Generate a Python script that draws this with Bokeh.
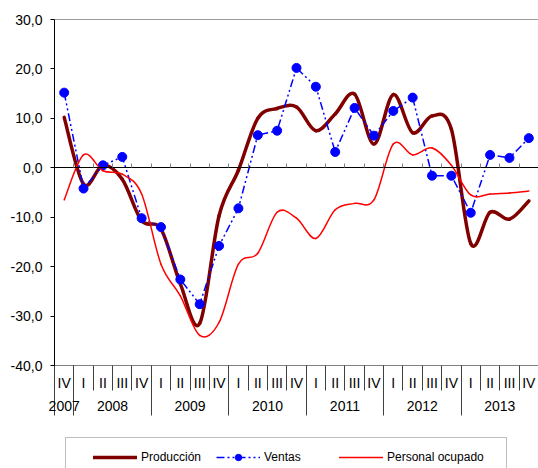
from bokeh.plotting import figure
from bokeh.models import Range1d, LinearAxis, FixedTicker, Legend, LegendItem, ColumnDataSource
from bokeh.embed import file_html
from bokeh.resources import INLINE

FONT = "Liberation Sans"

quarters = ["IV", "I", "II", "III", "IV", "I", "II", "III", "IV", "I", "II", "III", "IV",
            "I", "II", "III", "IV", "I", "II", "III", "IV", "I", "II", "III", "IV"]
years = ["2007", "2008", "2009", "2010", "2011", "2012", "2013"]
quarters_per_year = [1, 4, 4, 4, 4, 4, 4]

produccion = [10.2, -3.3, 0.5, -2.3, -10.7, -12.4, -23.5, -31.5, -9.7, -0.5, 10.0, 12.0, 12.3,
              7.5, 10.9, 14.9, 4.8, 14.8, 7.1, 10.5, 7.8, -15.3, -9.0, -10.4, -6.7]
ventas = [15.2, -4.2, 0.5, 2.2, -10.2, -12.0, -22.6, -27.6, -15.8, -8.2, 6.6, 7.5, 20.2,
          16.4, 3.2, 12.1, 6.5, 11.5, 14.2, -1.6, -1.6, -9.1, 2.6, 2.0, 6.0]
personal = [-6.5, 2.6, -0.6, -1.3, -5.3, -19.5, -25.9, -33.9, -31.3, -19.5, -17.3, -9.0, -10.2,
            -14.3, -8.5, -7.2, -6.5, 4.8, 2.6, 4.0, 0.5, -5.5, -5.3, -5.1, -4.7]

y_ticks = [-40, -30, -20, -10, 0, 10, 20, 30]
y_tick_labels = ["-40,0", "-30,0", "-20,0", "-10,0", "0,0", "10,0", "20,0", "30,0"]

n = len(quarters)
xs = [i + 0.5 for i in range(n)]
boundaries = list(range(0, n))
year_bounds = []
year_centers = []
acc = 0
for k in quarters_per_year:
    year_bounds.append(acc)
    year_centers.append(acc + k / 2)
    acc += k

Y_MIN, Y_MAX = y_ticks[0], y_ticks[-1]

# layout geometry (pixels); the frame covers the whole canvas so that nothing is clipped
W, H = 538, 468
PX_LEFT = 54                       # screen column of the value axis
PX_TOP, PX_AXIS = 19, 365          # screen rows of Y_MAX and Y_MIN
x_units_per_px = n / (W - PX_LEFT)
X_START = -PX_LEFT * x_units_per_px
y_units_per_px = (Y_MAX - Y_MIN) / (PX_AXIS - PX_TOP)
Y_BOTTOM = Y_MIN - (H - PX_AXIS) * y_units_per_px
Y_TOP = Y_MAX + PX_TOP * y_units_per_px

p = figure(width=W, height=H, output_backend="svg", toolbar_location=None,
           x_range=Range1d(X_START, n), y_range=Range1d(Y_BOTTOM, Y_TOP),
           min_border_left=0, min_border_right=0, min_border_top=0, min_border_bottom=0,
           x_axis_type=None, y_axis_type=None)
p.outline_line_color = None
p.background_fill_color = "white"
p.border_fill_color = "white"

# value axis drawn at x = 0 inside the frame
yax = LinearAxis(fixed_location=0, ticker=FixedTicker(ticks=y_ticks, minor_ticks=[]),
                 major_label_overrides=dict(zip(y_ticks, y_tick_labels)),
                 bounds=(Y_MIN, Y_MAX))
yax.major_tick_out = 4
yax.major_tick_in = 0
yax.axis_line_color = "black"
yax.major_tick_line_color = "black"
yax.major_label_text_font = FONT
yax.major_label_text_font_size = "14px"
yax.major_label_text_color = "black"
yax.major_label_standoff = 8
p.add_layout(yax, "left")

# top border line
top = LinearAxis(fixed_location=Y_MAX, ticker=FixedTicker(ticks=[], minor_ticks=[]),
                 bounds=(0, n))
top.axis_line_color = "#999999"
top.major_tick_line_color = None
top.minor_tick_line_color = None
p.add_layout(top, "above")

# zero line with small ticks
zero = LinearAxis(fixed_location=0, ticker=FixedTicker(ticks=[], minor_ticks=boundaries[1:]),
                  bounds=(0, n))
zero.axis_line_color = "black"
zero.major_tick_line_color = None
zero.minor_tick_in = 4
zero.minor_tick_out = 0
zero.minor_tick_line_color = "#808080"
p.add_layout(zero, "below")

# bottom line + quarter separators
qsep = LinearAxis(fixed_location=Y_MIN, ticker=FixedTicker(ticks=[], minor_ticks=boundaries),
                  bounds=(0, n))
qsep.axis_line_color = "#808080"
qsep.major_tick_line_color = None
qsep.minor_tick_in = 0
qsep.minor_tick_out = 25
qsep.minor_tick_line_color = "#404040"
p.add_layout(qsep, "below")

# year separators
ysep = LinearAxis(fixed_location=Y_MIN, ticker=FixedTicker(ticks=[], minor_ticks=year_bounds),
                  bounds=(0, n))
ysep.axis_line_color = None
ysep.major_tick_line_color = None
ysep.minor_tick_in = 0
ysep.minor_tick_out = 50
ysep.minor_tick_line_color = "#404040"
p.add_layout(ysep, "below")

# quarter labels
qax = LinearAxis(fixed_location=Y_MIN, ticker=FixedTicker(ticks=xs, minor_ticks=[]),
                 major_label_overrides={x: q for x, q in zip(xs, quarters)})
qax.axis_line_color = None
qax.major_tick_line_color = None
qax.minor_tick_line_color = None
qax.major_tick_in = 0
qax.major_tick_out = 0
qax.major_label_standoff = 9
qax.major_label_text_font = FONT
qax.major_label_text_font_size = "14px"
qax.major_label_text_color = "black"
p.add_layout(qax, "below")

# year labels
yrax = LinearAxis(fixed_location=Y_MIN, ticker=FixedTicker(ticks=year_centers, minor_ticks=[]),
                  major_label_overrides={c: y for c, y in zip(year_centers, years)})
yrax.axis_line_color = None
yrax.major_tick_line_color = None
yrax.minor_tick_line_color = None
yrax.major_tick_in = 0
yrax.major_tick_out = 0
yrax.major_label_standoff = 35
yrax.major_label_text_font = FONT
yrax.major_label_text_font_size = "14px"
yrax.major_label_text_color = "black"
p.add_layout(yrax, "below")


def smooth_segments(values, t=1.0 / 6.0):
    pts = list(zip(xs, values))
    m = len(pts)
    d = dict(x0=[], y0=[], x1=[], y1=[], cx0=[], cy0=[], cx1=[], cy1=[])
    for i in range(m - 1):
        p0 = pts[max(i - 1, 0)]
        p1 = pts[i]
        p2 = pts[i + 1]
        p3 = pts[min(i + 2, m - 1)]
        d["x0"].append(p1[0]); d["y0"].append(p1[1])
        d["x1"].append(p2[0]); d["y1"].append(p2[1])
        d["cx0"].append(p1[0] + (p2[0] - p0[0]) * t)
        d["cy0"].append(p1[1] + (p2[1] - p0[1]) * t)
        d["cx1"].append(p2[0] - (p3[0] - p1[0]) * t)
        d["cy1"].append(p2[1] - (p3[1] - p1[1]) * t)
    return ColumnDataSource(d)


bz = dict(x0="x0", y0="y0", x1="x1", y1="y1", cx0="cx0", cy0="cy0", cx1="cx1", cy1="cy1")

r_prod = p.bezier(source=smooth_segments(produccion), line_color="#800000", line_width=3.5,
                  line_cap="round", **bz)
src_v = ColumnDataSource(dict(x=xs, y=ventas))
r_vline = p.line("x", "y", source=src_v, line_color="#0000FF", line_width=1.5,
                 line_dash="8 3 2 3 2 3")
r_vdots = p.scatter("x", "y", source=src_v, size=9, marker="circle", fill_color="#0000FF",
                    line_color="#0000FF")
r_pers = p.bezier(source=smooth_segments(personal), line_color="#FF0000", line_width=1.5,
                  line_cap="round", **bz)

# legend box (frame spans the canvas, so locations are canvas pixels from bottom-left)
dummy = p.line(x=[], y=[], line_alpha=0)
box = Legend(items=[LegendItem(label=" ", renderers=[dummy])], location=(65, -4),
             orientation="horizontal", padding=0, margin=0, glyph_width=420, glyph_height=33,
             label_width=20, label_height=33, label_standoff=0,
             border_line_color="#808080", border_line_width=1,
             background_fill_color="white", background_fill_alpha=1.0,
             label_text_font_size="2px")
p.add_layout(box, "center")

leg = Legend(items=[LegendItem(label="Producción", renderers=[r_prod]),
                    LegendItem(label="Ventas", renderers=[r_vline, r_vdots]),
                    LegendItem(label="Personal ocupado", renderers=[r_pers])],
             location=(93, 1), orientation="horizontal", padding=0, margin=0, spacing=13,
             glyph_width=44, glyph_height=16, label_width=62, label_height=20, label_standoff=4,
             border_line_alpha=0, background_fill_alpha=0,
             label_text_font=FONT, label_text_font_size="12px", label_text_color="black")
p.add_layout(leg, "center")

open("out.html", "w").write(file_html(p, INLINE))
